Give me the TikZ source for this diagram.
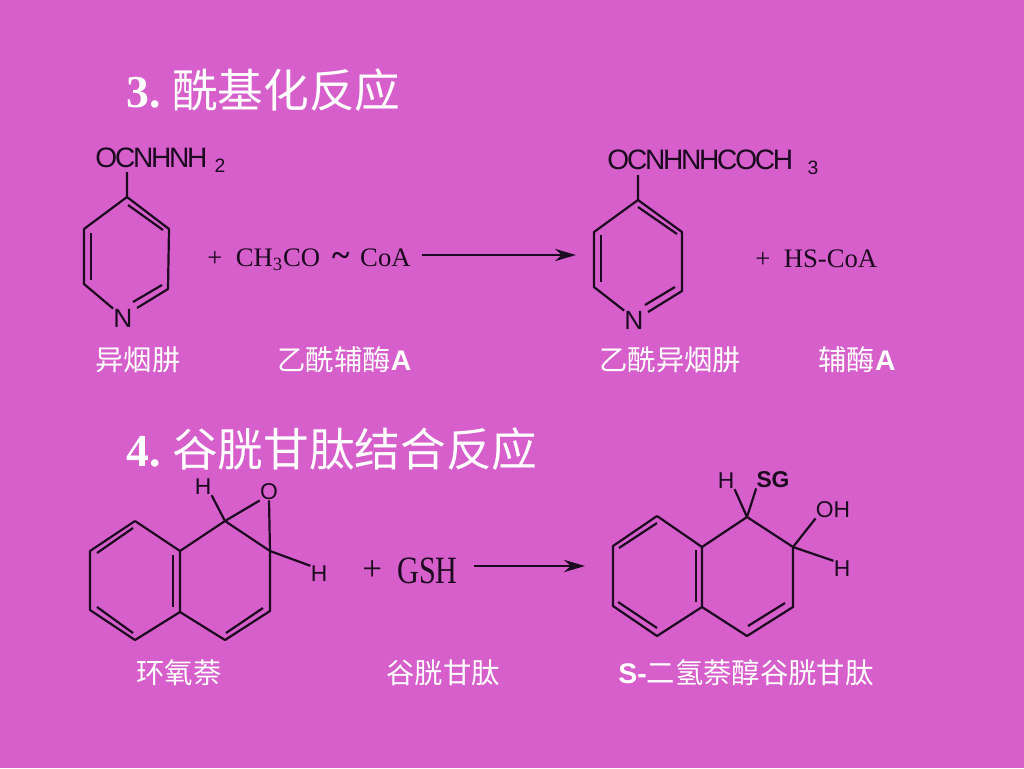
\documentclass[tikz,border=0pt]{standalone}
\usepackage{fontspec}
\setmainfont{Liberation Serif}
\newfontfamily\cjkfont{Noto Sans CJK SC}
\newfontfamily\arialfont{Liberation Sans}
\newfontfamily\atomfont[LetterSpace=-8]{Liberation Sans}
\usetikzlibrary{arrows.meta,positioning}
\definecolor{slidebg}{HTML}{D65FCB}
\definecolor{inkdark}{HTML}{1C0A20}
\tikzset{%
	heading/.style = {anchor=west, inner sep=0pt, text=white, font=\bfseries\fontsize{26}{30}\selectfont},
	caption/.style = {anchor=west, inner sep=0pt, text=white, font=\cjkfont\fontsize{16.15}{20}\selectfont},
	atom/.style    = {inner sep=0pt, text=inkdark, font=\arialfont\fontsize{13}{15}\selectfont},
	group/.style   = {anchor=west, inner sep=0pt, text=inkdark, font=\atomfont\fontsize{16}{18}\selectfont},
	reagent/.style = {anchor=west, inner sep=0pt, text=inkdark, font=\fontsize{15.2}{17}\selectfont},
	bond/.style    = {draw=inkdark, line width=1.25pt, line join=round},
	arrow/.style   = {draw=inkdark, line width=1.25pt, -{Stealth[length=12pt,width=7pt]}},
}
\newcommand{\boldA}{{\arialfont\bfseries A}}
\begin{document}
\begin{tikzpicture}[x=0.02cm,y=-0.02cm]
	\fill[slidebg] (0,0) rectangle (1024,768);
	\useasboundingbox (0,0) rectangle (1024,768);
	
	% headings
	\node[heading] (headthree) at (126,90) {3.\hspace{6.6pt}{\cjkfont\mdseries 酰基化反应}};
	\node[heading] (headfour) at (126,449) {4.\hspace{6.6pt}{\cjkfont\mdseries 谷胱甘肽结合反应}};
	
	% isoniazid
	\coordinate (at) at (127,197);
	\coordinate (aul) at (84,229);
	\coordinate (all) at (84,284);
	\coordinate (alr) at (168,289);
	\coordinate (aur) at (169,229);
	\coordinate (asub) at (127,172);
	\node[group] (agroup) at (95,158) {OCNHNH};
	\node[atom,font=\arialfont\fontsize{11}{13}\selectfont] (atwo) at (220,166) {2};
	\node[atom,font=\arialfont\fontsize{15}{17}\selectfont] (an) at (123,318) {N};
	\draw[bond] (asub) -- (at) -- (aul) -- (all) -- (an.north west);
	\draw[bond] (at) -- (aur) -- (alr) -- (137,308);
	\draw[bond] (128,205) -- (163,230);
	\draw[bond] (91,233) -- (91,280);
	\draw[bond] (133,302) -- (162,285);
	
	\node[reagent] (acoa) at (207,260) {+\hspace{0.5em}CH\textsubscript{3}CO\hspace{0.45em}{\bfseries\fontsize{19}{17}\selectfont\textasciitilde}\hspace{0.4em}CoA};
	\coordinate (onestart) at (422,255);
	\coordinate (oneend) at (576,255);
	\draw[arrow] (onestart) -- (oneend);
	
	% acetylisoniazid
	\coordinate (bt) at (638,200);
	\coordinate (bul) at (594,232);
	\coordinate (bll) at (594,287);
	\coordinate (blr) at (682,291);
	\coordinate (bur) at (682,232);
	\coordinate (bsub) at (638,175);
	\node[group] (bgroup) at (607,160) {OCNHNHCOCH};
	\node[atom,font=\arialfont\fontsize{11}{13}\selectfont] (bthree) at (813,168) {3};
	\node[atom,font=\arialfont\fontsize{15}{17}\selectfont] (bn) at (634,320) {N};
	\draw[bond] (bsub) -- (bt) -- (bul) -- (bll) -- (bn.north west);
	\draw[bond] (bt) -- (bur) -- (blr) -- (648,312);
	\draw[bond] (638,207) -- (677,234);
	\draw[bond] (601,235) -- (601,282);
	\draw[bond] (645,305) -- (675,287);
	
	\node[reagent] (bcoa) at (755,259) {+\hspace{0.5em}HS-CoA};
	
	% captions, first row
	\node[caption] (capa) at (95,360) {异烟肼};
	\node[caption] (capb) at (277,360) {乙酰辅酶\boldA};
	\node[caption] (capc) at (599,360) {乙酰异烟肼};
	\node[caption] (capd) at (818,360) {辅酶\boldA};
	
	% naphthalene oxide
	\coordinate (ct) at (135,521);
	\coordinate (cul) at (90,551);
	\coordinate (cll) at (90,610);
	\coordinate (cb) at (135,640);
	\coordinate (clj) at (180,612);
	\coordinate (cuj) at (180,551);
	\coordinate (cone) at (225,521);
	\coordinate (ctwo) at (270,551);
	\coordinate (cthree) at (270,611);
	\coordinate (cfour) at (225,640);
	\node[atom] (co) at (269,492) {O};
	\node[atom] (chone) at (203,487) {H};
	\node[atom] (chtwo) at (319,574) {H};
	\draw[bond] (ct) -- (cul) -- (cll) -- (cb) -- (clj) -- (cuj) -- (ct);
	\draw[bond] (cuj) -- (cone) -- (ctwo) -- (cthree) -- (cfour) -- (clj);
	\draw[bond] (133,528) -- (97,553);
	\draw[bond] (97,607) -- (133,633);
	\draw[bond] (173,555) -- (173,607);
	\draw[bond] (263,608) -- (226,633);
	\draw[bond] (cone) -- (co.south west);
	\draw[bond] (ctwo) -- (co.south);
	\draw[bond] (cone) -- (chone.south east);
	\draw[bond] (ctwo) -- (chtwo.north west);
	
	\node[reagent,font=\fontsize{20}{22}\selectfont] (plus) at (362,571) {+};
	\node[reagent] (gsh) at (397,571) {\fontsize{22}{24}\selectfont\scalebox{0.78}[1]{GSH}};
	\coordinate (twostart) at (474,566);
	\coordinate (twoend) at (585,566);
	\draw[arrow] (twostart) -- (twoend);
	
	% conjugate
	\coordinate (dt) at (657,516);
	\coordinate (dul) at (613,546);
	\coordinate (dll) at (613,606);
	\coordinate (db) at (657,636);
	\coordinate (dlj) at (702,607);
	\coordinate (duj) at (702,547);
	\coordinate (done) at (747,517);
	\coordinate (dtwo) at (793,547);
	\coordinate (dthree) at (793,607);
	\coordinate (dfour) at (747,636);
	\node[atom] (dhone) at (726,481) {H};
	\node[atom,font=\arialfont\bfseries\fontsize{13}{15}\selectfont] (dsg) at (773,480) {SG};
	\node[atom] (doh) at (833,510) {OH};
	\node[atom] (dhtwo) at (842,569) {H};
	\draw[bond] (dt) -- (dul) -- (dll) -- (db) -- (dlj) -- (duj) -- (dt);
	\draw[bond] (duj) -- (done) -- (dtwo) -- (dthree) -- (dfour) -- (dlj);
	\draw[bond] (657,523) -- (619,548);
	\draw[bond] (618,602) -- (657,628);
	\draw[bond] (696,550) -- (696,602);
	\draw[bond] (785,603) -- (748,626);
	\draw[bond] (done) -- (dhone.south east);
	\draw[bond] (done) -- (dsg.south west);
	\draw[bond] (dtwo) -- (doh.south west);
	\draw[bond] (dtwo) -- (dhtwo.north west);
	
	% captions, second row
	\node[caption] (cape) at (136,673) {环氧萘};
	\node[caption] (capf) at (386,673) {谷胱甘肽};
	\node[caption] (capg) at (618,673) {{\arialfont\bfseries S-}二氢萘醇谷胱甘肽};
\end{tikzpicture}
\end{document}
